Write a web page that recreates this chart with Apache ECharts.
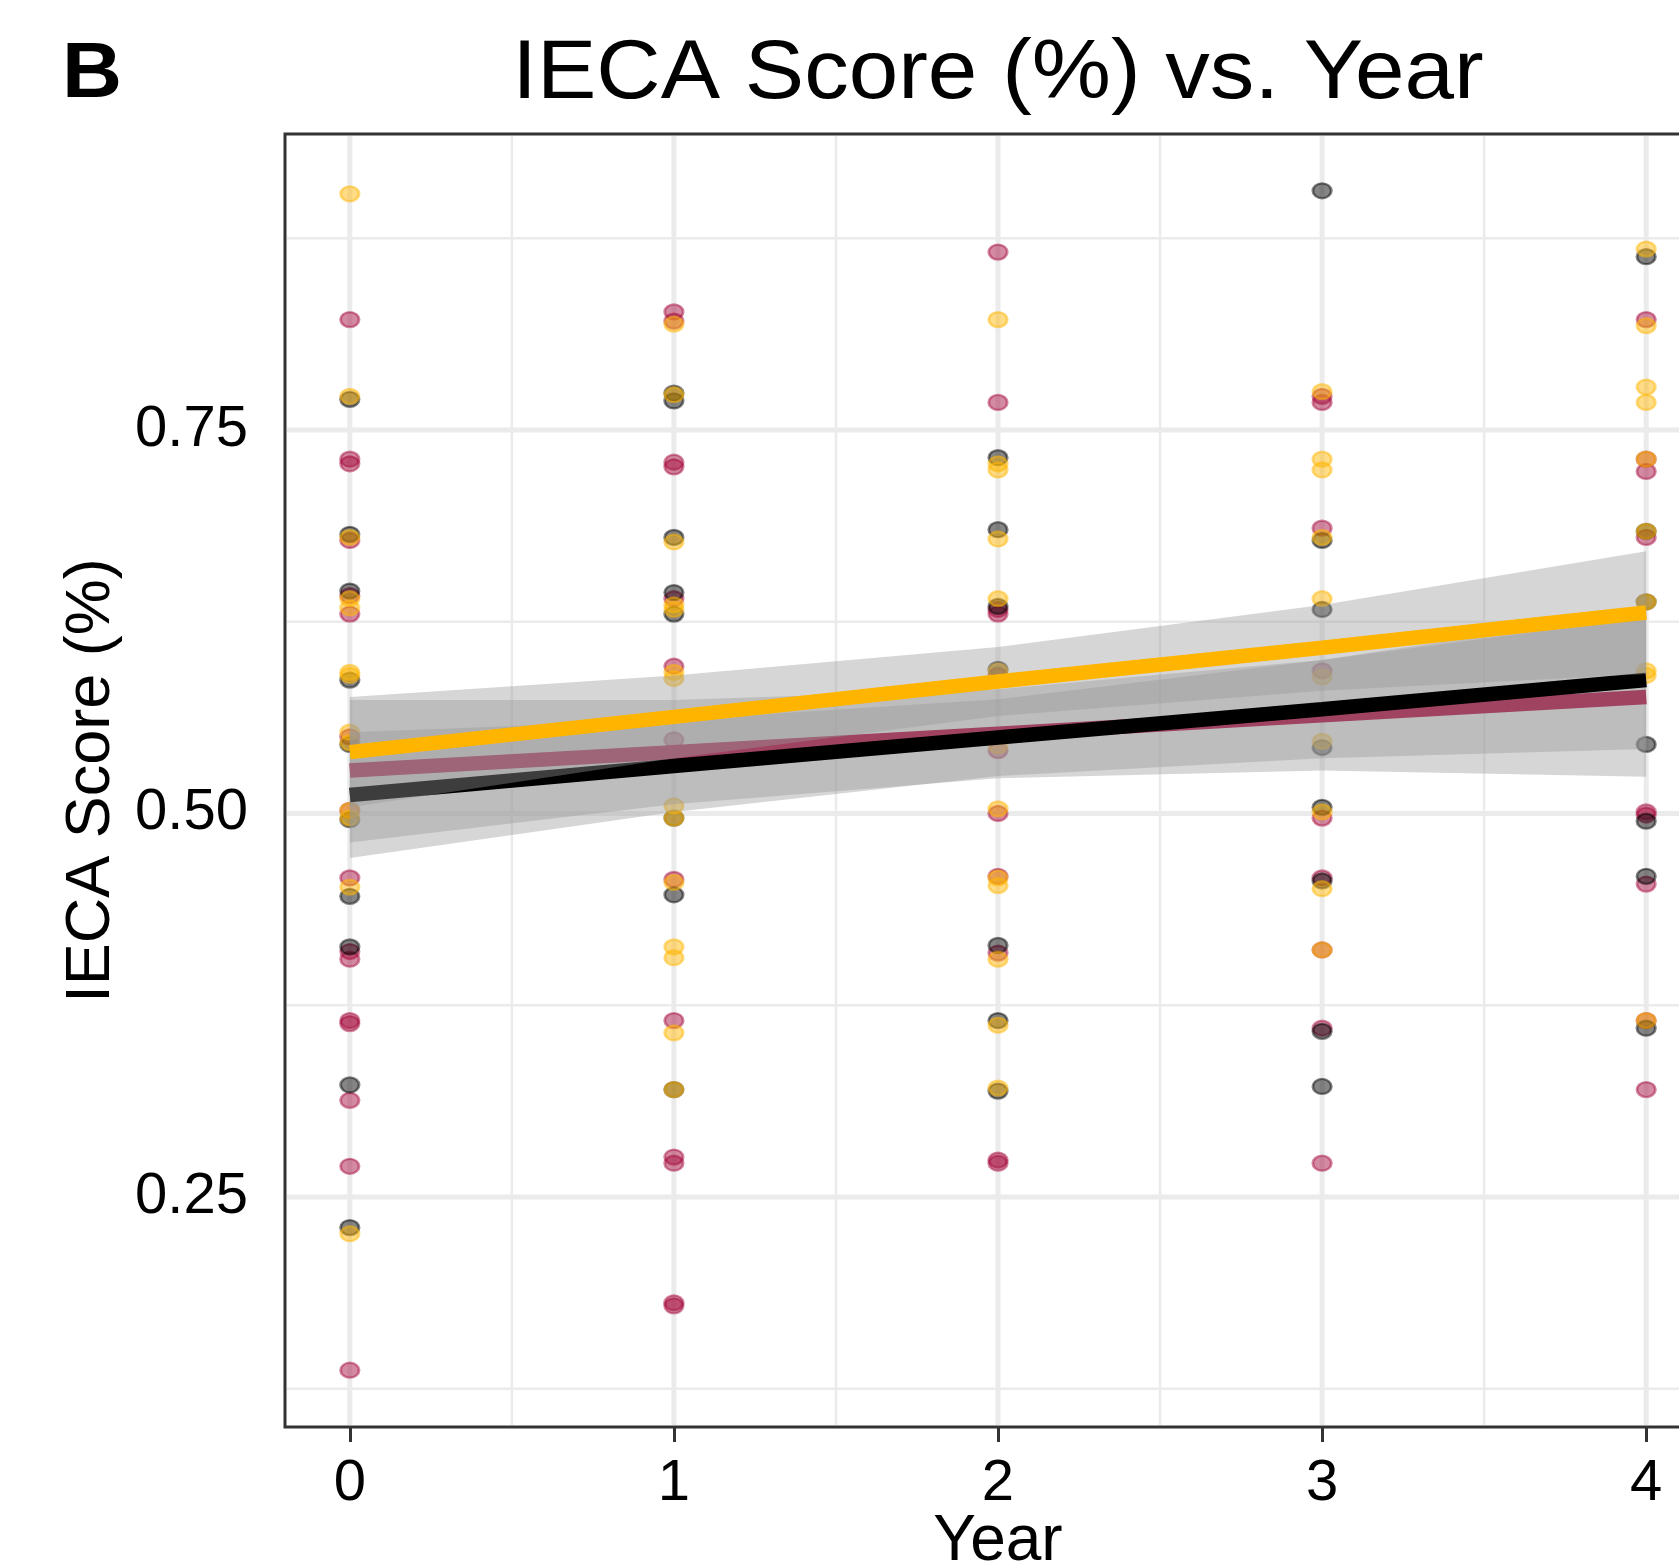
<!DOCTYPE html>
<html>
<head>
<meta charset="utf-8">
<title>IECA Score (%) vs. Year</title>
<script src="https://cdn.jsdelivr.net/npm/echarts@6/dist/echarts.min.js"></script>
<style>
  html, body { margin: 0; padding: 0; background: #fff; }
  #chart { width: 1679px; height: 1562px; }
</style>
</head>
<body>
<div id="chart"></div>
<script>
const FONT = '"Liberation Sans", Arial, sans-serif'

const years = [0, 1, 2, 3, 4]
const xMinor = [0.5, 1.5, 2.5, 3.5]
const yTicks = [0.25, 0.5, 0.75]
const yMinor = [0.125, 0.375, 0.625, 0.875]

// scores, one list per year (0..4)
const maroonScores = [
  [0.822, 0.731, 0.728, 0.678, 0.642, 0.630, 0.550, 0.502, 0.458, 0.410, 0.405, 0.365, 0.363, 0.313, 0.270, 0.137],
  [0.827, 0.821, 0.729, 0.726, 0.640, 0.596, 0.548, 0.457, 0.365, 0.276, 0.272, 0.181, 0.179],
  [0.866, 0.768, 0.633, 0.630, 0.590, 0.541, 0.500, 0.459, 0.409, 0.274, 0.272],
  [0.772, 0.768, 0.686, 0.593, 0.497, 0.458, 0.411, 0.360, 0.272],
  [0.822, 0.731, 0.723, 0.680, 0.501, 0.499, 0.454, 0.365, 0.320]
]
const blackScores = [
  [0.770, 0.682, 0.645, 0.587, 0.545, 0.496, 0.446, 0.413, 0.323, 0.230],
  [0.774, 0.769, 0.680, 0.644, 0.630, 0.497, 0.447, 0.320],
  [0.732, 0.685, 0.635, 0.594, 0.414, 0.365, 0.319],
  [0.906, 0.678, 0.633, 0.543, 0.504, 0.456, 0.358, 0.322],
  [0.863, 0.684, 0.638, 0.545, 0.495, 0.459, 0.360]
]
const goldScores = [
  [0.904, 0.772, 0.680, 0.640, 0.634, 0.592, 0.590, 0.553, 0.546, 0.502, 0.497, 0.452, 0.226],
  [0.819, 0.773, 0.677, 0.636, 0.633, 0.592, 0.588, 0.505, 0.497, 0.455, 0.413, 0.406, 0.357, 0.320],
  [0.822, 0.728, 0.724, 0.679, 0.640, 0.593, 0.544, 0.503, 0.458, 0.453, 0.405, 0.362, 0.321],
  [0.775, 0.731, 0.724, 0.680, 0.640, 0.589, 0.547, 0.501, 0.451, 0.411],
  [0.868, 0.818, 0.778, 0.768, 0.731, 0.684, 0.638, 0.593, 0.590, 0.365]
]

// linear fits and their confidence bands at each year
const maroonFit = [0.528, 0.540, 0.552, 0.564, 0.576]
const maroonLo = [0.481, 0.506, 0.523, 0.528, 0.524]
const maroonHi = [0.574, 0.574, 0.581, 0.600, 0.628]
const blackFit = [0.512, 0.531, 0.5495, 0.568, 0.587]
const blackLo = [0.471, 0.501, 0.5245, 0.536, 0.542]
const blackHi = [0.553, 0.561, 0.5745, 0.600, 0.632]
const goldFit = [0.540, 0.563, 0.586, 0.608, 0.631]
const goldLo = [0.504, 0.536, 0.5635, 0.580, 0.591]
const goldHi = [0.576, 0.590, 0.6085, 0.636, 0.671]

const MAROON = '165,10,60'
const BLACK = '0,0,0'
const GOLD = '255,181,0'
const ELLIPSE = 'path://M-10,0A10,10,0,1,0,10,0A10,10,0,1,0,-10,0Z'

function toPairs(scores) {
  const out = []
  scores.forEach((list, i) => list.forEach(v => out.push([years[i], v])))
  return out
}

function pointSeries(scores, rgb) {
  return {
    type: 'scatter',
    z: 2,
    silent: true,
    symbol: ELLIPSE,
    symbolSize: [18.5, 15],
    data: toPairs(scores),
    itemStyle: {
      color: 'rgba(' + rgb + ',0.6)',
      borderColor: 'rgba(' + rgb + ',0.6)',
      borderWidth: 2.5
    }
  }
}

function ribbonSeries(lo, hi, z) {
  return {
    type: 'custom',
    z: z,
    silent: true,
    data: years.map((x, i) => [x, lo[i], hi[i]]),
    renderItem(params, api) {
      if (params.dataIndex !== 0) return null
      const top = years.map((x, i) => api.coord([x, hi[i]]))
      const bot = years.map((x, i) => api.coord([x, lo[i]])).reverse()
      return {
        type: 'polygon',
        shape: { points: top.concat(bot) },
        style: { fill: 'rgba(153,153,153,0.4)' }
      }
    }
  }
}

function fitSeries(fit, rgb, z) {
  return {
    type: 'line',
    z: z,
    silent: true,
    showSymbol: false,
    data: years.map((x, i) => [x, fit[i]]),
    lineStyle: { color: 'rgb(' + rgb + ')', width: 14.5, cap: 'butt' }
  }
}

// panel grid lines, drawn through the axes' own scales
const gridLines = {
  type: 'custom',
  z: 1,
  silent: true,
  data: [0],
  renderItem(params, api) {
    const cs = params.coordSys
    const kids = []
    const vline = (x, w) => {
      const px = api.coord([x, 0.5])[0]
      kids.push({ type: 'line', shape: { x1: px, y1: cs.y + 2, x2: px, y2: cs.y + cs.height - 2 },
        style: { stroke: '#EBEBEB', lineWidth: w } })
    }
    const hline = (y, w) => {
      const py = api.coord([0, y])[1]
      kids.push({ type: 'line', shape: { x1: cs.x + 2, y1: py, x2: cs.x + cs.width - 2, y2: py },
        style: { stroke: '#EBEBEB', lineWidth: w } })
    }
    xMinor.forEach(v => vline(v, 2.5))
    yMinor.forEach(v => hline(v, 2.5))
    years.forEach(v => vline(v, 5))
    yTicks.forEach(v => hline(v, 5))
    return { type: 'group', children: kids }
  }
}

const chart = echarts.init(document.getElementById('chart'))
chart.setOption({
  animation: false,
  backgroundColor: '#fff',
  textStyle: { fontFamily: FONT },
  grid: {
    left: 285, top: 134, width: 1426, height: 1293,
    outerBoundsMode: 'none',
    containLabel: false,
    show: true, borderColor: '#333', borderWidth: 3, backgroundColor: '#fff'
  },
  graphic: [
    {
      type: 'text', z: 10, x: 62, y: 76, scaleX: 1.08,
      style: { text: 'B', x: 0, y: 0, font: 'bold 77px ' + FONT, fill: '#000',
        textAlign: 'left', textVerticalAlign: 'middle', align: 'left', verticalAlign: 'middle' }
    },
    {
      type: 'text', z: 10, x: 998, y: 75, scaleX: 1.06,
      style: { text: 'IECA Score (%) vs. Year', x: 0, y: 0, font: '84px ' + FONT, fill: '#000',
        textAlign: 'center', textVerticalAlign: 'middle', align: 'center', verticalAlign: 'middle' }
    }
  ],
  xAxis: {
    type: 'value',
    min: -0.2,
    max: 4.2,
    axisLine: { show: false },
    splitLine: { show: false },
    axisTick: { show: true, customValues: years, length: 15, lineStyle: { color: '#333', width: 3 } },
    axisLabel: { customValues: years, fontSize: 58, color: '#000', margin: 28, fontFamily: FONT },
    name: 'Year',
    nameLocation: 'middle',
    nameGap: 83,
    nameMoveOverlap: false,
    nameTextStyle: { fontSize: 64, color: '#000', fontFamily: FONT }
  },
  yAxis: {
    type: 'value',
    min: 0.1,
    max: 0.943,
    axisLine: { show: false },
    splitLine: { show: false },
    axisTick: { show: true, customValues: yTicks, length: 19, lineStyle: { color: '#333', width: 3 } },
    axisLabel: {
      customValues: yTicks, fontSize: 58, color: '#000', margin: 37, fontFamily: FONT,
      formatter: v => v.toFixed(2)
    },
    name: 'IECA Score (%)',
    nameLocation: 'middle',
    nameGap: 162,
    nameTextStyle: { fontSize: 63, color: '#000', fontFamily: FONT }
  },
  series: [
    gridLines,
    pointSeries(maroonScores, MAROON),
    pointSeries(blackScores, BLACK),
    pointSeries(goldScores, GOLD),
    ribbonSeries(maroonLo, maroonHi, 3),
    fitSeries(maroonFit, MAROON, 4),
    ribbonSeries(blackLo, blackHi, 5),
    fitSeries(blackFit, BLACK, 6),
    ribbonSeries(goldLo, goldHi, 7),
    fitSeries(goldFit, GOLD, 8)
  ]
})
</script>
</body>
</html>
